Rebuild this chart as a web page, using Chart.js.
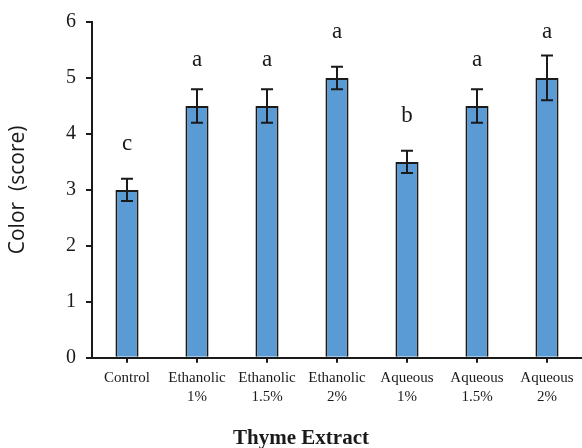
<!DOCTYPE html>
<html>
<head>
<meta charset="utf-8">
<script src="https://cdn.jsdelivr.net/npm/chart.js@4/dist/chart.umd.min.js"></script>
<style>
  html, body { margin: 0; padding: 0; background: #fff; }
  #wrap { width: 582px; height: 448px; position: relative; }
</style>
</head>
<body>
<div id="wrap"><canvas id="chart"></canvas></div>
<script>
// values
const categories = [
  ['Control'],
  ['Ethanolic', '1%'],
  ['Ethanolic', '1.5%'],
  ['Ethanolic', '2%'],
  ['Aqueous', '1%'],
  ['Aqueous', '1.5%'],
  ['Aqueous', '2%'],
];
const colorScores = [3, 4.5, 4.5, 5, 3.5, 4.5, 5];
const scoreErrors = [0.2, 0.3, 0.3, 0.2, 0.2, 0.3, 0.4];
const groupLetters = ['c', 'a', 'a', 'a', 'b', 'a', 'a'];
const yTickValues = [0, 1, 2, 3, 4, 5, 6];

const INK = '#1a1a1a';
const SERIF = '"Liberation Serif", "Times New Roman", serif';

// error bars + significance letters
const errorBarPlugin = {
  id: 'errorBars',
  afterDatasetsDraw(chart) {
    const ctx = chart.ctx;
    const yScale = chart.scales.y;
    const meta = chart.getDatasetMeta(0);
    ctx.save();
    ctx.strokeStyle = INK;
    ctx.lineWidth = 2;
    meta.data.forEach((bar, i) => {
      const v = colorScores[i];
      const e = scoreErrors[i];
      const top = yScale.getPixelForValue(v + e);
      const bottom = yScale.getPixelForValue(v - e);
      const cap = 6;
      ctx.beginPath();
      ctx.moveTo(bar.x, top);
      ctx.lineTo(bar.x, bottom);
      ctx.moveTo(bar.x - cap, top);
      ctx.lineTo(bar.x + cap, top);
      ctx.moveTo(bar.x - cap, bottom);
      ctx.lineTo(bar.x + cap, bottom);
      ctx.stroke();

      ctx.fillStyle = INK;
      ctx.font = '23px ' + SERIF;
      ctx.textAlign = 'center';
      ctx.textBaseline = 'alphabetic';
      ctx.fillText(groupLetters[i], bar.x, yScale.getPixelForValue(v + 0.72));
    });
    ctx.restore();
  },
};

const chartCtx = document.getElementById('chart').getContext('2d');
// eslint-disable-next-line no-unused-vars
const chart = new Chart(chartCtx, {
  type: 'bar',
  data: {
    labels: categories,
    datasets: [{
      data: colorScores,
      backgroundColor: '#5b9bd5',
      borderColor: INK,
      borderWidth: 2,
      barPercentage: 0.33,
      categoryPercentage: 1,
    }],
  },
  options: {
    responsive: true,
    maintainAspectRatio: false,
    animation: false,
    layout: { padding: { top: 19, right: 0, left: 20, bottom: 0 } },
    plugins: {
      legend: { display: false },
      tooltip: { enabled: false },
      title: {
        display: true,
        position: 'bottom',
        text: 'Thyme Extract',
        color: INK,
        font: { family: SERIF, size: 21, weight: 'bold' },
        padding: { top: 0, bottom: -3 },
      },
    },
    scales: {
      x: {
        offset: true,
        grid: {
          display: true,
          drawOnChartArea: false,
          offset: false,
          tickLength: 5,
          lineWidth: 2,
          color: INK,
        },
        border: { color: INK, width: 2 },
        ticks: {
          color: INK,
          padding: 6,
          maxRotation: 0,
          autoSkip: false,
          font: { family: SERIF, size: 15, lineHeight: 1.25 },
        },
        afterFit(scale) { scale.height = 68; },
      },
      y: {
        min: 0,
        max: 6,
        afterBuildTicks(scale) {
          scale.ticks = yTickValues.map((v) => ({ value: v }));
        },
        grid: {
          drawOnChartArea: false,
          tickLength: 6,
          lineWidth: 2,
          color: INK,
        },
        border: { color: INK, width: 2 },
        ticks: {
          color: INK,
          padding: 10,
          font: { family: SERIF, size: 20 },
        },
        title: {
          display: true,
          text: 'Color  (score)',
          color: INK,
          font: { family: '"Open Sans", sans-serif', size: 21 },
          padding: { top: -15, bottom: 0 },
        },
        afterFit(scale) { scale.width = 72; },
      },
    },
  },
  plugins: [errorBarPlugin],
});
</script>
</body>
</html>
